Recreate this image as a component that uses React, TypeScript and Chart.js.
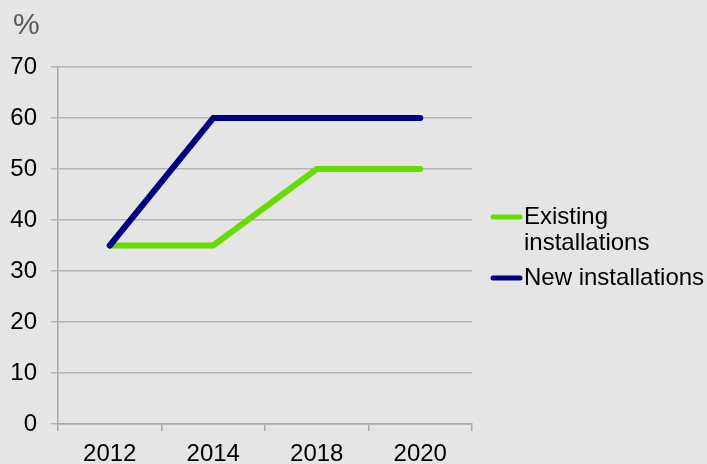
import React, { useEffect, useRef } from "react";
import { Chart, registerables } from "chart.js";

Chart.register(...registerables);

const categories = ["2012", "2014", "2018", "2020"];
const existingValues = [35, 35, 50, 50];
const newValues = [35, 60, 60, 60];
const seriesLabels = [["Existing", "installations"], ["New installations"]];
const seriesColors = ["#66dd00", "#000080"];
const yMin = 0;
const yMax = 70;
const yStep = 10;
const unitLabel = "%";

const FONT = "'Liberation Sans', Arial, Helvetica, sans-serif";

const customLegend = {
  id: "customLegend",
  afterDraw(chart: any) {
    const ctx = chart.ctx;
    const area = chart.chartArea;
    ctx.save();
    // unit label
    ctx.font = `30px ${FONT}`;
    ctx.fillStyle = "#595959";
    ctx.textAlign = "left";
    ctx.textBaseline = "middle";
    ctx.fillText(unitLabel, 13, 26);

    // legend
    const lineH = 26;
    const x0 = area.right + 19;
    const x1 = x0 + 31;
    let y = 217;
    ctx.font = `24px ${FONT}`;
    seriesLabels.forEach((lines, i) => {
      ctx.strokeStyle = seriesColors[i];
      ctx.lineWidth = 5;
      ctx.lineCap = "round";
      ctx.beginPath();
      ctx.moveTo(x0 + 2, y);
      ctx.lineTo(x1 - 2, y);
      ctx.stroke();
      ctx.fillStyle = "#000000";
      ctx.textAlign = "left";
      ctx.textBaseline = "middle";
      lines.forEach((t, j) => {
        ctx.fillText(t, x1 + 2, y + j * lineH);
      });
      y += lines.length * lineH + 9;
    });
    ctx.restore();
  },
};

export default function App() {
  const canvasRef = useRef<HTMLCanvasElement | null>(null);

  useEffect(() => {
    document.body.style.margin = "0";
    const canvas = canvasRef.current;
    if (!canvas) return;
    const chart = new Chart(canvas, {
      type: "line",
      data: {
        labels: categories,
        datasets: [
          {
            label: seriesLabels[0].join(" "),
            data: existingValues,
            borderColor: seriesColors[0],
            backgroundColor: seriesColors[0],
            borderWidth: 6,
            borderCapStyle: "round",
            borderJoinStyle: "miter",
            pointRadius: 0,
            tension: 0,
            order: 2,
          },
          {
            label: seriesLabels[1].join(" "),
            data: newValues,
            borderColor: seriesColors[1],
            backgroundColor: seriesColors[1],
            borderWidth: 6,
            borderCapStyle: "round",
            borderJoinStyle: "miter",
            pointRadius: 0,
            tension: 0,
            order: 1,
          },
        ],
      },
      options: {
        responsive: false,
        animation: false,
        layout: { padding: { top: 67, right: 235, left: 0, bottom: 0 } },
        plugins: {
          legend: { display: false },
          tooltip: { enabled: false },
          title: { display: false },
        },
        scales: {
          x: {
            offset: true,
            grid: {
              offset: true,
              drawOnChartArea: false,
              drawTicks: true,
              tickLength: 7,
              color: "#a8a8a8",
              lineWidth: 1.5,
            },
            border: { color: "#a8a8a8", width: 1.5 },
            ticks: {
              color: "#000000",
              font: { family: FONT, size: 24 },
              padding: 9,
              maxRotation: 0,
            },
            afterFit: (s: any) => {
              s.height = 40;
            },
          },
          y: {
            min: yMin,
            max: yMax,
            ticks: {
              stepSize: yStep,
              color: "#000000",
              font: { family: FONT, size: 24 },
              padding: 14,
            },
            grid: {
              color: "#b4b4b4",
              lineWidth: 1.5,
              tickLength: 7,
            },
            border: { color: "#a8a8a8", width: 1.5 },
            afterFit: (s: any) => {
              s.width = 58;
            },
          },
        },
      },
      plugins: [customLegend],
    } as any);
    return () => chart.destroy();
  }, []);

  return (
    <div style={{ width: 707, height: 464, background: "#e5e5e5" }}>
      <canvas ref={canvasRef} width={707} height={464} />
    </div>
  );
}
